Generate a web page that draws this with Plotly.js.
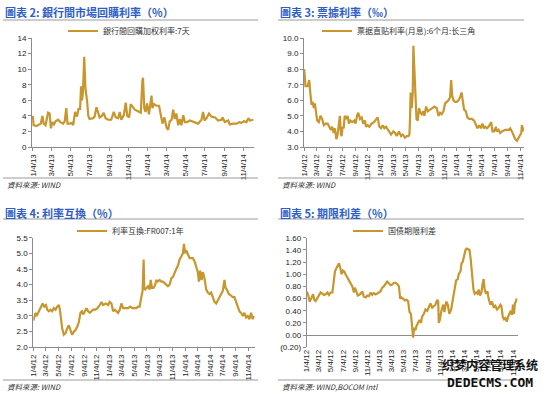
<!DOCTYPE html>
<html><head><meta charset="utf-8">
<script src="https://cdn.plot.ly/plotly-3.0.1.min.js"></script>
<style>html,body{margin:0;padding:0;background:#fff;}#chart{width:550px;height:395px;}</style>
</head><body><div id="chart"></div>
<script>
// ---- Chart 2: 銀行間回購加权利率:7天 ----
const repoDates = ['2013-01-04','2013-01-06','2013-01-15','2013-01-23','2013-01-29','2013-02-03','2013-02-07','2013-02-13','2013-02-21','2013-02-26','2013-03-02','2013-03-07','2013-03-12','2013-03-17','2013-03-25','2013-04-01','2013-04-10','2013-04-15','2013-04-20','2013-04-24','2013-05-01','2013-05-08','2013-05-12','2013-05-18','2013-05-24','2013-05-29','2013-06-03','2013-06-06','2013-06-09','2013-06-12','2013-06-16','2013-06-20','2013-06-25','2013-06-29','2013-07-03','2013-07-14','2013-07-19','2013-07-25','2013-07-30','2013-08-04','2013-08-11','2013-08-17','2013-08-23','2013-08-31','2013-09-10','2013-09-18','2013-09-24','2013-10-02','2013-10-07','2013-10-12','2013-10-20','2013-10-26','2013-10-31','2013-11-06','2013-11-11','2013-11-16','2013-11-24','2013-12-04','2013-12-13','2013-12-18','2013-12-20','2013-12-24','2013-12-28','2014-01-02','2014-01-08','2014-01-16','2014-01-19','2014-01-24','2014-02-01','2014-02-09','2014-02-15','2014-02-20','2014-02-26','2014-03-05','2014-03-10','2014-03-15','2014-03-21','2014-03-26','2014-03-31','2014-04-05','2014-04-11','2014-04-16','2014-04-21','2014-04-27','2014-05-02','2014-05-09','2014-05-18','2014-05-29','2014-06-13','2014-06-24','2014-06-29','2014-07-04','2014-07-10','2014-07-18','2014-07-26','2014-08-06','2014-08-16','2014-08-27','2014-08-30','2014-09-06','2014-09-17','2014-09-22','2014-10-03','2014-10-14','2014-10-22','2014-10-29','2014-11-06','2014-11-14','2014-11-20','2014-11-25','2014-12-06'];
const repoValues = [4.0,2.8,2.7,2.9,3.0,4.0,3.0,2.8,4.4,4.3,2.4,3.2,2.9,3.3,3.5,3.2,3.0,3.3,5.0,3.0,3.0,3.1,2.8,4.5,3.9,4.9,4.9,7.8,6.0,7.0,11.6,7.5,6.0,4.0,3.6,3.7,3.9,5.1,4.5,3.8,4.0,4.4,3.7,3.5,3.5,4.5,3.8,3.7,4.5,3.5,4.1,5.7,4.0,3.8,5.5,5.2,4.8,4.6,4.4,8.5,8.9,5.0,4.5,5.6,4.2,6.6,5.0,5.5,5.3,5.3,4.0,3.0,3.8,2.5,2.2,3.3,3.5,4.8,3.6,4.3,2.8,3.6,2.8,4.1,3.2,3.2,3.4,3.2,3.0,3.5,4.5,3.4,3.7,4.3,3.9,3.8,3.4,3.5,3.8,3.2,3.4,2.9,3.0,3.0,3.2,3.1,3.3,3.2,3.7,3.4,3.5];
const repoTickVals = ['2013-01-04','2013-03-04','2013-05-04','2013-07-04','2013-09-04','2013-11-04','2014-01-04','2014-03-04','2014-05-04','2014-07-04','2014-09-04','2014-11-04'];
const repoTickText = ['1/4/13','3/4/13','5/4/13','7/4/13','9/4/13','11/4/13','1/4/14','3/4/14','5/4/14','7/4/14','9/4/14','11/4/14'];

// ---- Chart 3: 票据直贴利率(月息):6个月:长三角 ----
const billDates = ['2012-01-04','2012-01-07','2012-01-10','2012-01-20','2012-01-28','2012-02-02','2012-02-08','2012-02-13','2012-02-19','2012-02-24','2012-03-02','2012-03-06','2012-03-14','2012-03-22','2012-03-30','2012-04-07','2012-04-15','2012-04-25','2012-05-03','2012-05-11','2012-05-17','2012-05-24','2012-05-30','2012-06-06','2012-06-12','2012-06-18','2012-06-23','2012-06-28','2012-07-01','2012-07-06','2012-07-11','2012-07-16','2012-07-24','2012-07-30','2012-08-05','2012-08-12','2012-08-21','2012-08-31','2012-09-06','2012-09-13','2012-09-19','2012-09-27','2012-10-05','2012-10-13','2012-10-21','2012-10-26','2012-11-03','2012-11-11','2012-11-22','2012-12-03','2012-12-13','2012-12-21','2012-12-29','2013-01-06','2013-01-14','2013-01-22','2013-01-30','2013-02-07','2013-02-15','2013-02-23','2013-03-06','2013-03-14','2013-03-22','2013-04-02','2013-04-12','2013-04-20','2013-05-01','2013-05-09','2013-05-17','2013-05-22','2013-05-25','2013-05-28','2013-06-02','2013-06-07','2013-06-10','2013-06-15','2013-06-20','2013-06-25','2013-07-01','2013-07-07','2013-07-14','2013-07-20','2013-07-27','2013-08-02','2013-08-10','2013-08-18','2013-08-29','2013-09-09','2013-09-19','2013-09-30','2013-10-08','2013-10-16','2013-10-24','2013-11-01','2013-11-09','2013-11-17','2013-11-25','2013-12-03','2013-12-08','2013-12-13','2013-12-19','2013-12-27','2014-01-04','2014-01-12','2014-01-20','2014-01-27','2014-02-02','2014-02-08','2014-02-16','2014-02-24','2014-03-04','2014-03-17','2014-03-28','2014-04-05','2014-04-13','2014-04-21','2014-04-29','2014-05-07','2014-05-14','2014-05-20','2014-05-28','2014-06-05','2014-06-13','2014-06-18','2014-06-24','2014-07-02','2014-07-10','2014-07-15','2014-07-23','2014-07-31','2014-08-08','2014-08-24','2014-09-09','2014-09-17','2014-09-25','2014-10-03','2014-10-11','2014-10-19','2014-10-27','2014-11-04','2014-11-09','2014-11-12','2014-11-17','2014-11-20'];
const billValues = [8.0,7.0,6.9,6.9,7.3,6.5,5.7,5.9,5.5,5.8,5.0,4.7,4.6,5.0,4.8,4.4,4.5,4.5,4.3,4.1,4.3,3.9,4.2,3.5,3.8,4.4,5.0,3.8,3.7,4.3,4.2,5.0,4.8,5.0,4.5,4.7,4.6,4.7,4.5,5.0,5.2,4.8,4.9,4.5,4.7,4.3,4.4,4.3,4.5,4.6,4.8,4.9,4.3,4.2,4.4,4.2,4.3,4.1,4.0,3.8,4.0,3.9,3.7,4.0,3.7,3.8,3.6,3.7,3.7,3.8,4.8,6.5,5.5,6.5,9.5,8.0,6.0,4.8,4.7,5.5,5.2,5.1,5.3,5.0,5.6,5.3,5.4,5.5,5.6,5.5,5.0,5.2,5.1,5.3,5.8,5.9,6.0,6.2,7.3,6.3,6.0,5.9,5.9,6.0,6.2,6.5,5.8,5.4,5.3,4.9,4.8,4.8,4.7,4.5,4.2,4.4,4.2,4.5,4.2,4.3,4.2,4.3,4.5,4.6,4.0,4.0,4.3,4.0,4.1,3.9,4.0,4.1,4.1,4.2,4.0,3.7,3.5,3.4,3.6,3.7,3.9,4.4,4.1,4.0];

// ---- Chart 4: 利率互換:FR007:1年 ----
const swapDates = ['2012-01-04','2012-01-09','2012-01-15','2012-01-20','2012-01-28','2012-02-05','2012-02-13','2012-02-18','2012-02-26','2012-03-05','2012-03-11','2012-03-19','2012-03-27','2012-04-04','2012-04-12','2012-04-20','2012-04-28','2012-05-06','2012-05-11','2012-05-16','2012-05-22','2012-05-30','2012-06-07','2012-06-15','2012-06-23','2012-07-01','2012-07-09','2012-07-17','2012-07-25','2012-08-02','2012-08-10','2012-08-18','2012-08-25','2012-08-31','2012-09-08','2012-09-16','2012-09-24','2012-10-02','2012-10-10','2012-10-18','2012-10-29','2012-11-08','2012-11-19','2012-11-27','2012-12-05','2012-12-18','2012-12-29','2013-01-06','2013-01-14','2013-01-22','2013-01-30','2013-02-07','2013-02-15','2013-02-23','2013-03-03','2013-03-11','2013-03-24','2013-04-04','2013-04-15','2013-04-25','2013-05-03','2013-05-14','2013-05-22','2013-05-30','2013-06-04','2013-06-09','2013-06-13','2013-06-18','2013-06-21','2013-06-26','2013-07-01','2013-07-09','2013-07-17','2013-07-22','2013-07-28','2013-08-05','2013-08-13','2013-08-18','2013-08-26','2013-09-03','2013-09-11','2013-09-19','2013-09-27','2013-10-05','2013-10-13','2013-10-21','2013-10-29','2013-11-06','2013-11-14','2013-11-22','2013-11-30','2013-12-08','2013-12-16','2013-12-24','2013-12-29','2014-01-04','2014-01-09','2014-01-17','2014-01-25','2014-02-02','2014-02-10','2014-02-18','2014-02-26','2014-03-06','2014-03-11','2014-03-17','2014-03-24','2014-03-30','2014-04-07','2014-04-15','2014-04-23','2014-05-01','2014-05-09','2014-05-17','2014-05-25','2014-06-02','2014-06-10','2014-06-18','2014-06-26','2014-07-04','2014-07-12','2014-07-17','2014-07-23','2014-08-02','2014-08-13','2014-08-21','2014-08-29','2014-09-06','2014-09-14','2014-09-22','2014-09-30','2014-10-08','2014-10-16','2014-10-24','2014-11-01','2014-11-09','2014-11-17','2014-11-25','2014-11-30'];
const swapValues = [2.85,3.0,3.1,3.0,3.1,3.2,3.35,3.4,3.3,3.35,3.2,3.15,3.2,3.15,3.25,3.2,3.3,3.35,3.2,2.8,2.6,2.4,2.45,2.6,2.7,2.55,2.4,2.5,2.55,2.65,2.8,3.1,3.15,3.05,3.15,3.25,3.15,3.1,3.15,3.2,3.2,3.25,3.35,3.45,3.35,3.4,3.35,3.45,3.4,3.15,3.2,3.15,3.1,3.2,3.4,3.25,3.25,3.25,3.3,3.25,3.25,3.25,3.3,3.3,3.5,3.7,3.8,4.8,3.9,3.85,3.9,3.95,3.85,4.15,3.9,3.9,4.0,4.15,4.1,4.15,4.1,4.1,4.05,4.0,3.95,4.0,4.2,4.25,4.4,4.5,4.6,4.8,4.9,5.0,5.3,5.0,5.1,5.0,4.85,4.85,4.85,4.75,4.55,4.4,4.1,4.45,4.15,4.4,4.2,3.85,3.75,3.7,3.75,3.6,3.45,3.4,3.5,3.55,3.7,3.8,4.15,3.9,3.85,3.7,3.65,3.6,3.6,3.45,3.3,3.15,3.1,3.0,3.1,2.95,3.0,2.9,3.1,2.9,3.0];

// ---- Chart 5: 国债期限利差 ----
const spreadDates = ['2012-01-04','2012-01-12','2012-01-19','2012-01-24','2012-01-29','2012-02-05','2012-02-11','2012-02-18','2012-02-26','2012-03-06','2012-03-14','2012-03-22','2012-03-31','2012-04-08','2012-04-17','2012-04-25','2012-05-03','2012-05-12','2012-05-20','2012-05-25','2012-06-01','2012-06-07','2012-06-14','2012-06-21','2012-06-27','2012-07-04','2012-07-11','2012-07-17','2012-07-26','2012-08-03','2012-08-11','2012-08-20','2012-08-28','2012-09-02','2012-09-09','2012-09-16','2012-09-22','2012-10-01','2012-10-09','2012-10-17','2012-10-26','2012-11-03','2012-11-11','2012-11-20','2012-11-28','2012-12-06','2012-12-15','2012-12-23','2012-12-31','2013-01-09','2013-01-17','2013-01-25','2013-02-03','2013-02-11','2013-02-19','2013-02-28','2013-03-08','2013-03-17','2013-03-25','2013-04-02','2013-04-11','2013-04-17','2013-04-24','2013-05-02','2013-05-11','2013-05-19','2013-05-27','2013-06-03','2013-06-10','2013-06-15','2013-06-18','2013-06-21','2013-06-26','2013-07-03','2013-07-08','2013-07-15','2013-07-23','2013-07-31','2013-08-05','2013-08-14','2013-08-22','2013-08-31','2013-09-08','2013-09-16','2013-09-25','2013-10-03','2013-10-11','2013-10-20','2013-10-25','2013-10-28','2013-11-02','2013-11-10','2013-11-19','2013-11-25','2013-12-04','2013-12-12','2013-12-20','2013-12-29','2014-01-06','2014-01-14','2014-01-23','2014-01-31','2014-02-05','2014-02-14','2014-02-19','2014-02-25','2014-03-04','2014-03-11','2014-03-17','2014-03-24','2014-03-31','2014-04-06','2014-04-13','2014-04-20','2014-04-26','2014-05-03','2014-05-10','2014-05-16','2014-05-23','2014-05-30','2014-06-05','2014-06-10','2014-06-15','2014-06-22','2014-06-29','2014-07-05','2014-07-14','2014-07-22','2014-07-31','2014-08-08','2014-08-16','2014-08-25','2014-09-02','2014-09-07','2014-09-14','2014-09-20','2014-09-27','2014-10-04','2014-10-11','2014-10-18','2014-10-24','2014-10-31','2014-11-04','2014-11-09','2014-11-14','2014-11-19','2014-11-23'];
const spreadValues = [0.72,0.65,0.55,0.6,0.62,0.67,0.58,0.56,0.6,0.64,0.7,0.68,0.66,0.67,0.7,0.66,0.7,0.7,0.9,1.05,1.1,1.15,1.18,1.1,1.0,1.06,1.04,1.0,0.95,0.9,0.85,0.8,0.7,0.78,0.72,0.65,0.66,0.68,0.72,0.63,0.62,0.65,0.64,0.7,0.66,0.69,0.67,0.68,0.7,0.72,0.78,0.8,0.84,0.88,0.85,0.82,0.83,0.86,0.86,0.84,0.8,0.6,0.62,0.6,0.57,0.58,0.56,0.38,0.35,0.18,0.0,-0.04,0.12,0.08,0.15,0.2,0.25,0.2,0.3,0.35,0.42,0.4,0.45,0.52,0.45,0.48,0.5,0.58,0.55,0.2,0.25,0.4,0.5,0.38,0.55,0.5,0.35,0.42,0.6,0.78,0.9,0.92,1.0,1.05,1.18,1.2,1.3,1.4,1.42,1.41,1.4,1.25,0.95,0.75,0.68,0.7,0.68,0.75,0.65,0.7,0.85,0.92,0.75,0.68,0.72,0.6,0.5,0.55,0.45,0.48,0.42,0.45,0.5,0.48,0.3,0.26,0.28,0.22,0.3,0.35,0.4,0.33,0.5,0.35,0.52,0.55,0.6];
const spreadTickVals = [-0.2,0,0.2,0.4,0.6,0.8,1.0,1.2,1.4,1.6];
const spreadTickText = ['(0.20)','0.00','0.20','0.40','0.60','0.80','1.00','1.20','1.40','1.60'];

const longTickVals = ['2012-01-04','2012-03-04','2012-05-04','2012-07-04','2012-09-04','2012-11-04','2013-01-04','2013-03-04','2013-05-04','2013-07-04','2013-09-04','2013-11-04','2014-01-04','2014-03-04','2014-05-04','2014-07-04','2014-09-04','2014-11-04'];
const longTickText = ['1/4/12','3/4/12','5/4/12','7/4/12','9/4/12','11/4/12','1/4/13','3/4/13','5/4/13','7/4/13','9/4/13','11/4/13','1/4/14','3/4/14','5/4/14','7/4/14','9/4/14','11/4/14'];

const seriesNames = ['銀行間回購加权利率:7天','票据直贴利率(月息):6个月:长三角','利率互換:FR007:1年','国债期限利差'];
const panelTitles = ['圖表 2: 銀行間市場回購利率（%）','圖表 3: 票據利率（‰）','圖表 4: 利率互換（%）','圖表 5: 期限利差（%）'];
const sources = ['資料來源: WIND','資料來源: WIND','資料來源: WIND','資料來源: WIND,BOCOM Intl'];

const W = 550, H = 395;
const px = v => v / W, py = v => 1 - v / H;
const GOLD = '#C8962C';
const CJK = 'Noto Sans CJK TC, Noto Sans CJK SC, sans-serif';
const NUM = 'Liberation Sans, Arial, sans-serif';

function line(x, y, xa, ya, name, leg) {
  return {type: 'scatter', mode: 'lines', x: x, y: y, xaxis: xa, yaxis: ya, name: name,
    legend: leg, showlegend: true, line: {color: GOLD, width: 2.2}, hoverinfo: 'x+y'};
}
const traces = [
  line(repoDates, repoValues, 'x', 'y', seriesNames[0], 'legend'),
  line(billDates, billValues, 'x2', 'y2', seriesNames[1], 'legend2'),
  line(swapDates, swapValues, 'x3', 'y3', seriesNames[2], 'legend3'),
  line(spreadDates, spreadValues, 'x4', 'y4', seriesNames[3], 'legend4')
];

const axBase = {showline: true, linecolor: '#8c8c8c', linewidth: 1, ticks: 'outside', ticklen: 3,
  tickcolor: '#8c8c8c', showgrid: false, zeroline: false, tickfont: {family: NUM, size: 8, color: '#222'}, fixedrange: true};
function xa(dom, anchor, range, tv, tt) {
  return Object.assign({}, axBase, {type: 'date', domain: dom, anchor: anchor, range: range,
    tickmode: 'array', tickvals: tv, ticktext: tt, tickangle: -90});
}
function ya(dom, anchor, range, extra) {
  return Object.assign({}, axBase, {domain: dom, anchor: anchor, range: range}, extra);
}
const topY = [py(147), py(38)], botY = [py(347.3), py(237.7)];

const legendBase = {orientation: 'h', xanchor: 'left', yanchor: 'middle', bgcolor: 'rgba(0,0,0,0)',
  font: {family: CJK, size: 8, color: '#333'}, itemwidth: 30, tracegroupgap: 0};
function leg(x, y) { return Object.assign({}, legendBase, {x: px(x), y: py(y)}); }

const annotations = [];
const shapes = [];
const panels = [[3, 12, 20, 258, 178, 184], [278, 12, 20, 524, 178, 184], [3, 213, 219, 258, 380, 386], [278, 213, 219, 524, 380, 386]];
panels.forEach((p, i) => {
  annotations.push({xref: 'paper', yref: 'paper', x: px(p[0]), y: py(p[1]), xanchor: 'left', yanchor: 'middle',
    showarrow: false, text: '<b>' + panelTitles[i] + '</b>', font: {family: CJK, size: 11, color: '#2F5EC4'}});
  annotations.push({xref: 'paper', yref: 'paper', x: px(p[0] + 2), y: py(p[5]), xanchor: 'left', yanchor: 'middle',
    showarrow: false, text: '<i>' + sources[i] + '</i>', font: {family: CJK, size: 7.5, color: '#333'}});
  shapes.push({type: 'line', xref: 'paper', yref: 'paper', x0: px(p[0]), x1: px(p[3]), y0: py(p[2]), y1: py(p[2]), line: {color: '#9a9a9a', width: 1}});
  shapes.push({type: 'line', xref: 'paper', yref: 'paper', x0: px(p[0]), x1: px(p[3]), y0: py(p[4]), y1: py(p[4]), line: {color: '#9a9a9a', width: 1}});
});
annotations.push({xref: 'paper', yref: 'paper', x: px(490), y: py(364), xanchor: 'center', yanchor: 'middle', showarrow: false,
  text: '<b>织梦内容管理系统</b>', font: {family: CJK, size: 12, color: '#111'}, borderpad: 0});
annotations.push({xref: 'paper', yref: 'paper', x: px(490), y: py(382), xanchor: 'center', yanchor: 'middle', showarrow: false,
  text: '<b>DEDECMS.COM</b>', font: {family: 'DejaVu Sans Mono, monospace', size: 13, color: '#111'}, borderpad: 0});

const layout = {
  width: W, height: H, margin: {l: 0, r: 0, t: 0, b: 0}, paper_bgcolor: '#fff', plot_bgcolor: '#fff',
  xaxis: xa([px(32), px(254)], 'y', ['2013-01-01', '2014-12-08'], repoTickVals, repoTickText),
  yaxis: ya(topY, 'x', [0, 14], {dtick: 2, tick0: 0}),
  xaxis2: xa([px(304), px(524)], 'y2', ['2012-01-03', '2014-11-22'], longTickVals, longTickText),
  yaxis2: ya(topY, 'x2', [3, 10], {dtick: 1, tick0: 3, tickformat: '.1f'}),
  xaxis3: xa([px(33.3), px(255)], 'y3', ['2012-01-04', '2014-12-06'], longTickVals, longTickText),
  yaxis3: ya(botY, 'x3', [2, 5.5], {dtick: 0.5, tick0: 2, tickformat: '.1f'}),
  xaxis4: Object.assign(xa([px(306.7), px(517.7)], 'y4', ['2012-01-04', '2014-11-28'], longTickVals, longTickText), {showline: false, ticks: ''}),
  yaxis4: ya(botY, 'x4', [-0.2, 1.6], {tickmode: 'array', tickvals: spreadTickVals, ticktext: spreadTickText, zeroline: true, zerolinecolor: '#8c8c8c', zerolinewidth: 1}),
  legend: leg(63, 31),
  legend2: leg(317, 31),
  legend3: leg(72, 231),
  legend4: leg(348, 231),
  annotations: annotations, shapes: shapes, showlegend: true
};
Plotly.newPlot('chart', traces, layout, {displayModeBar: false, staticPlot: true});
</script></body></html>
